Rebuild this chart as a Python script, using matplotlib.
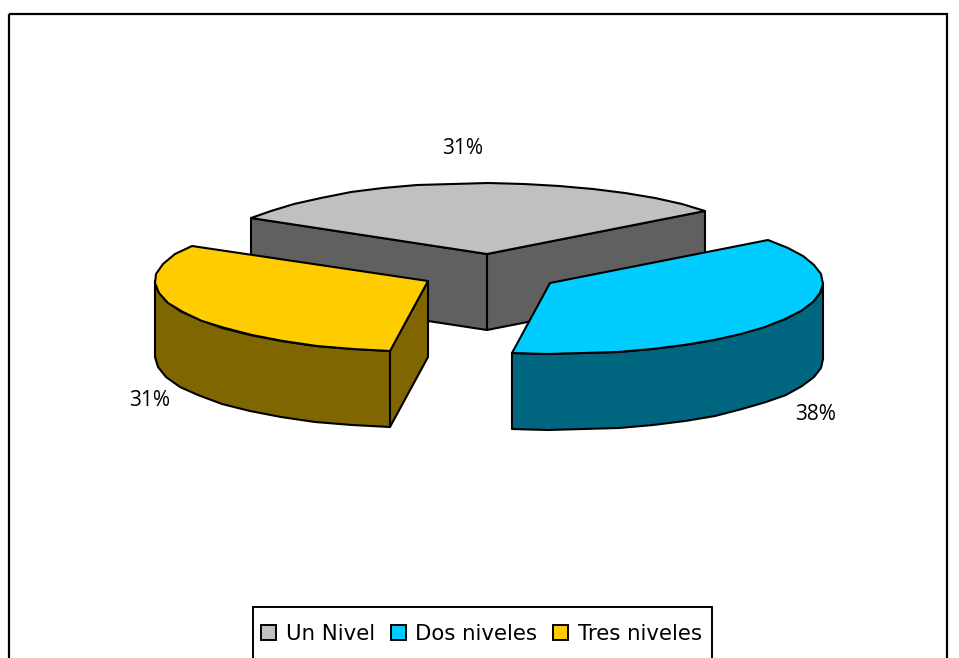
import matplotlib
matplotlib.use("Agg")
import matplotlib.pyplot as plt
from matplotlib.patches import Polygon, Rectangle, Patch
import numpy as np

# Data
categories = ["Un Nivel", "Dos niveles", "Tres niveles"]
shares = [31.4, 37.5, 31.1]
top_colors = ["#C0C0C0", "#00CCFF", "#FFCC00"]
side_colors = ["#606060", "#006680", "#806600"]

# Pie geometry in pixels (the picture is 959x658)
centers = [(487, 254), (550, 283), (428, 281)]
rx, ry = 273, 71
depth = 76
start_angle = 150  # slices run clockwise from here
lw = 1.5


def arc(center, a1, a2, dy=0):
    # rim points rounded to whole pixels, the source chart has the same rough edge
    n = max(3, int(abs(a2 - a1) / 7))
    t = np.radians(np.linspace(a1, a2, n))
    x = np.round(center[0] + rx * np.cos(t))
    y = np.round(center[1] - ry * np.sin(t) + dy)
    return np.column_stack([x, y])


fig = plt.figure(figsize=(9.59, 6.58), dpi=100)
ax = fig.add_axes([0, 0, 1, 1])
ax.set_xlim(0, 959)
ax.set_ylim(658, 0)
ax.axis("off")

# Outer frame runs off the bottom of the picture
ax.add_patch(Rectangle((9, 14), 938, 670, fill=False, edgecolor="black", linewidth=1.6))

# Slice angles from the shares
edges = start_angle - np.cumsum([0] + shares) * 3.6
angles = [(edges[i], edges[i + 1]) for i in range(3)]


def side(p, color):
    ax.add_patch(Polygon(p, closed=True, facecolor=color, edgecolor="black", linewidth=lw, joinstyle="round"))


# Grey slice first, it sits behind the other two
for i in [0, 2, 1]:
    c = np.array(centers[i], dtype=float)
    a1, a2 = angles[i]
    down = np.array([0, depth])
    p1 = arc(c, a1, a1)[0]
    p2 = arc(c, a2, a2)[0]

    if i == 0:
        # both cut faces are visible
        side([p1, c, c + down, p1 + down], side_colors[i])
        side([c, p2, p2 + down, c + down], side_colors[i])
    if i == 1:
        rim = arc(c, 0, a2)
        side(np.vstack([rim, (rim + down)[::-1]]), side_colors[i])
    if i == 2:
        side([c, p1, p1 + down, c + down], side_colors[i])
        rim = arc(c, a1, -180)
        side(np.vstack([rim, (rim + down)[::-1]]), side_colors[i])

    top = np.vstack([[c], arc(c, a1, a2)])
    ax.add_patch(Polygon(top, closed=True, facecolor=top_colors[i], edgecolor="black", linewidth=lw, joinstyle="round"))

# Percent labels
label_pos = [(463, 149), (816, 415), (150, 401)]
for share, (x, y) in zip(shares, label_pos):
    ax.text(x, y, f"{round(share)}%", ha="center", va="center", fontsize=15, family="Open Sans", color="black")

# Legend, its box runs off the bottom of the picture
ax.add_patch(Rectangle((253, 607), 459, 80, facecolor="white", edgecolor="black", linewidth=1.4))
handles = [Patch(facecolor=c, edgecolor="black", linewidth=1.4) for c in top_colors]
leg = ax.legend(handles, categories, ncol=3, loc="center", bbox_to_anchor=(481.5, 634),
                bbox_transform=ax.transData, frameon=False,
                fontsize=15.3, handlelength=0.7, handleheight=0.7, handletextpad=0.45,
                columnspacing=0.75, borderpad=0, borderaxespad=0)
for t in leg.get_texts():
    t.set_fontfamily("DejaVu Sans")

fig.savefig("out.png", dpi=100)
